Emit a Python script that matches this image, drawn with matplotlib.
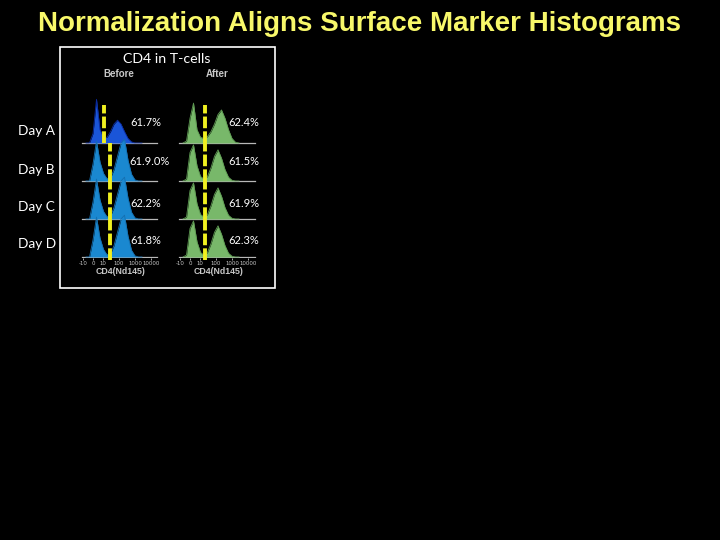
import matplotlib
matplotlib.use('Agg')

import matplotlib.pyplot as plt
import numpy as np
from matplotlib.patches import Rectangle

W, H = 720, 540

# shared x grid, arcsinh(x/5) units
grid_u = [-1.0, -0.5, 0.0, 0.5, 1.0, 1.5, 2.0, 2.5, 3.0, 3.5, 4.0, 4.5, 5.0, 5.5, 6.0, 6.5, 7.0]

# histogram heights (in row units)
before_a = [0, 0, 0.25, 1.15, 0.35, 0.15, 0.15, 0.3, 0.5, 0.6, 0.5, 0.3, 0.12, 0.03, 0, 0, 0]
before_bcd = [0, 0, 0.45, 1.05, 0.5, 0.2, 0.06, 0.08, 0.3, 0.65, 1.0, 1.1, 0.55, 0.18, 0.03, 0, 0]
after_a = [0, 0.05, 0.65, 1.05, 0.35, 0.15, 0.12, 0.17, 0.3, 0.5, 0.75, 0.87, 0.65, 0.35, 0.12, 0.02, 0]
after_bcd = [0, 0.05, 0.75, 0.95, 0.4, 0.12, 0.05, 0.12, 0.35, 0.65, 0.82, 0.6, 0.3, 0.1, 0.02, 0, 0]

days = ['Day A', 'Day B', 'Day C', 'Day D']
pct_before = ['61.7%', '61.9.0%', '62.2%', '61.8%']
pct_after = ['62.4%', '61.5%', '61.9%', '62.3%']

# gate positions (arcsinh units)
gate_before = [1.57, 2.43, 2.43, 2.43]
gate_after = [2.14, 2.14, 2.14, 2.14]

tick_vals = [-10, 0, 10, 100, 1000, 10000]
tick_labels = ['-10', '0', '10', '100', '1000', '10000']


def px_box(x0, y0, x1, y1):
    return [x0 / W, 1 - y1 / H, (x1 - x0) / W, (y1 - y0) / H]


fig = plt.figure(figsize=(7.2, 5.4), dpi=100)
fig.patch.set_facecolor('black')

fig.text(360 / W, 1 - 24 / H, 'Normalization Aligns Surface Marker Histograms',
         color='#f8f86a', fontsize=20, fontweight='bold', family='Liberation Sans',
         ha='center', va='center')

fig.patches.append(Rectangle((60 / W, 1 - 288 / H), 215 / W, 241 / H, transform=fig.transFigure,
                             fill=False, edgecolor='white', lw=1.2))

fig.text(167 / W, 1 - 59 / H, 'CD4 in T-cells', color='white', fontsize=10.2, family='Lato',
         ha='center', va='center')
fig.text(119 / W, 1 - 74 / H, 'Before', color='#c8c8c8', fontsize=7, fontweight='bold',
         family='Liberation Sans', ha='center', va='center')
fig.text(217 / W, 1 - 74 / H, 'After', color='#c8c8c8', fontsize=7, fontweight='bold',
         family='Liberation Sans', ha='center', va='center')

day_y = [131, 170, 207, 244]
for d, y in zip(days, day_y):
    fig.text(18 / W, 1 - y / H, d, color='white', fontsize=9.8, family='Lato',
             ha='left', va='center')


def draw_column(box, x0_px, shapes, colors, edges, gates, pcts, pct_y, line_span):
    # x: 7 px per arcsinh unit, zero at x0_px ; y: 38 px per row, row D baseline at 257
    ax = fig.add_axes(px_box(*box))
    ax.set_facecolor('none')
    ax.set_xlim((box[0] - x0_px) / 7.0, (box[2] - x0_px) / 7.0)
    ax.set_ylim((257 - box[3]) / 38.0, (257 - box[1]) / 38.0)
    u = np.array(grid_u)
    for i in range(4):
        base = 3 - i
        h = np.array(shapes[i])
        ax.plot([(line_span[0] - x0_px) / 7.0, (line_span[1] - x0_px) / 7.0], [base, base],
                color='#b8b8b8', lw=0.9, zorder=1 + i * 3)
        ax.fill_between(u, base, base + h, color=colors[i], lw=0, zorder=2 + i * 3)
        ax.plot(u, base + h, color=edges[i], lw=0.6, zorder=2 + i * 3)
        ax.text((pct_y[i][0] - x0_px) / 7.0, (257 - pct_y[i][1]) / 38.0, pcts[i], color='white',
                fontsize=8, family='Lato', ha='left', va='center', zorder=20)
    # gates
    for i in range(4):
        base = 3 - i
        top = base + 1.0
        ax.plot([gates[i], gates[i]], [base - 0.08 if i == 3 else base, top],
                color='#f0f020', lw=2.8, dashes=(3.0, 0.8), zorder=30, clip_on=False,
                solid_capstyle='butt', dash_capstyle='butt')
    ticks = [np.arcsinh(v / 5.0) for v in tick_vals]
    ax.set_xticks(ticks)
    ax.set_xticklabels(tick_labels, fontsize=3.9, color='#c8c8c8')
    ax.tick_params(axis='x', length=1.5, width=0.6, color='#c8c8c8', pad=0.5)
    ax.set_yticks([])
    for s in ax.spines.values():
        s.set_visible(False)
    ax.set_xlabel('CD4(Nd145)', fontsize=6.3, color='#c8c8c8', fontweight='bold',
                  family='Liberation Sans', labelpad=1)
    return ax


draw_column((80, 97, 162, 258), 93,
            [before_a, before_bcd, before_bcd, before_bcd],
            ['#1a55d8', '#1a88d0', '#1a88d0', '#1a88d0'],
            ['#0a2aa0', '#156fb0', '#156fb0', '#156fb0'],
            gate_before, pct_before,
            [(130, 123), (129, 161), (130, 203), (130, 240)], (82, 157))

draw_column((178, 97, 260, 258), 190,
            [after_a, after_bcd, after_bcd, after_bcd],
            ['#78b86a', '#78b86a', '#78b86a', '#78b86a'],
            ['#5e9a52', '#5e9a52', '#5e9a52', '#5e9a52'],
            gate_after, pct_after,
            [(228, 123), (228, 161), (228, 203), (228, 240)], (179, 255))

fig.savefig('out.png', dpi=100, facecolor='black')
